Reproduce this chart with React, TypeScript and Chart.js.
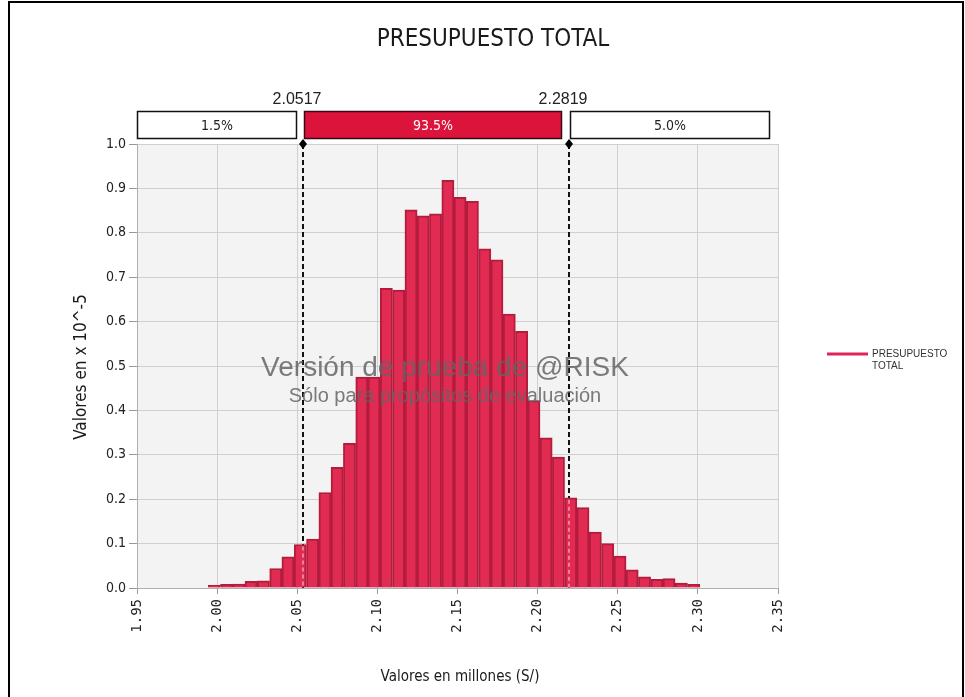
import React, { useEffect, useRef } from "react";
import { Chart, registerables } from "chart.js";
Chart.register(...registerables);

// ---- data ----
const binCenters = [
  1.9982, 2.0059, 2.0136, 2.0212, 2.0289, 2.0366, 2.0442, 2.0519, 2.0596, 2.0673,
  2.0749, 2.0826, 2.0903, 2.0979, 2.1056, 2.1133, 2.121, 2.1286, 2.1363, 2.144,
  2.1516, 2.1593, 2.167, 2.1746, 2.1823, 2.19, 2.1977, 2.2053, 2.213, 2.2207,
  2.2283, 2.236, 2.2437, 2.2514, 2.259, 2.2667, 2.2744, 2.282, 2.2897, 2.2974,
];
const binValues = [
  0.006, 0.008, 0.009, 0.015, 0.016, 0.044, 0.07, 0.098, 0.11, 0.215,
  0.272, 0.326, 0.475, 0.475, 0.675, 0.671, 0.852, 0.838, 0.843, 0.918,
  0.88, 0.871, 0.764, 0.739, 0.617, 0.578, 0.422, 0.338, 0.295, 0.203,
  0.181, 0.126, 0.1, 0.072, 0.041, 0.025, 0.0195, 0.021, 0.011, 0.008,
];
const xTicks = [1.95, 2.0, 2.05, 2.1, 2.15, 2.2, 2.25, 2.3, 2.35];
const yTicks = [0, 0.1, 0.2, 0.3, 0.4, 0.5, 0.6, 0.7, 0.8, 0.9, 1.0];
const markerPositions = [2.0537, 2.2198];
const markerLabels = ["2.0517", "2.2819"];
const regionLabels = ["1.5%", "93.5%", "5.0%"];
const chartTitle = "PRESUPUESTO TOTAL";
const seriesName = ["PRESUPUESTO", "TOTAL"];
const xTitle = "Valores en millones (S/)";
const yTitle = "Valores en x 10^-5";
const watermark = ["Versión de prueba de @RISK", "Sólo para propósitos de evaluación"];

const NARROW = '"Liberation Sans Narrow", "DejaVu Sans Condensed", "Liberation Sans", sans-serif';
const SANS = '"Liberation Sans", Arial, sans-serif';
const MONO = '"DejaVu Sans Mono", "Liberation Mono", monospace';

const BAR_FILL = "#e22b52";
const BAR_EDGE = "#b31c3d";

const overlay = {
  id: "overlay",
  beforeDraw(chart: any) {
    const { ctx, chartArea: a } = chart;
    ctx.save();
    ctx.fillStyle = "#f3f3f3";
    ctx.fillRect(a.left, a.top, a.right - a.left, a.bottom - a.top);
    ctx.restore();
  },
  beforeDatasetsDraw(chart: any) {
    const { ctx, chartArea: a, scales } = chart;
    ctx.save();
    ctx.strokeStyle = "#111";
    ctx.lineWidth = 2;
    ctx.setLineDash([5, 3]);
    markerPositions.forEach((v) => {
      const x = Math.round(scales.x.getPixelForValue(v));
      ctx.beginPath();
      ctx.moveTo(x, a.top);
      ctx.lineTo(x, a.bottom);
      ctx.stroke();
    });
    ctx.restore();
  },
  afterDatasetsDraw(chart: any) {
    const { ctx, chartArea: a, scales } = chart;
    const meta = chart.getDatasetMeta(0);
    ctx.save();
    markerPositions.forEach((v) => {
      const x = Math.round(scales.x.getPixelForValue(v));
      let topY = a.bottom;
      meta.data.forEach((el: any) => {
        const half = el.width / 2;
        if (x >= el.x - half && x <= el.x + half) topY = Math.min(topY, el.y);
      });
      ctx.strokeStyle = "rgba(255,170,190,0.9)";
      ctx.lineWidth = 1.5;
      ctx.setLineDash([4, 3]);
      ctx.beginPath();
      ctx.moveTo(x, topY + 2);
      ctx.lineTo(x, a.bottom);
      ctx.stroke();
      ctx.setLineDash([]);
      ctx.fillStyle = "#000";
      ctx.beginPath();
      ctx.moveTo(x, a.top - 5);
      ctx.lineTo(x + 4, a.top);
      ctx.lineTo(x, a.top + 5);
      ctx.lineTo(x - 4, a.top);
      ctx.closePath();
      ctx.fill();
    });
    ctx.restore();
  },
  afterDraw(chart: any) {
    const { ctx, chartArea: a, scales } = chart;
    const xs = markerPositions.map((v) => Math.round(scales.x.getPixelForValue(v)));
    ctx.save();
    ctx.fillStyle = "#1a1a1a";
    ctx.textAlign = "center";
    ctx.textBaseline = "middle";
    ctx.font = `24px ${NARROW}`;
    ctx.fillText(chartTitle, 493, 40);

    ctx.font = `16px ${SANS}`;
    ctx.fillStyle = "#222";
    markerLabels.forEach((t, i) => ctx.fillText(t, xs[i] - 6, 100));

    const boxTop = 111;
    const boxH = 28;
    const boxes = [
      [a.left, xs[0] - 6],
      [xs[0] + 1, xs[1] - 7],
      [xs[1] + 1, a.right - 8],
    ];
    boxes.forEach(([l, r], i) => {
      ctx.fillStyle = i === 1 ? "#dc143c" : "#ffffff";
      ctx.fillRect(l, boxTop, r - l, boxH);
      ctx.strokeStyle = i === 1 ? "#3a0a12" : "#111";
      ctx.lineWidth = 1.5;
      ctx.strokeRect(l + 0.5, boxTop + 0.5, r - l - 1, boxH - 1);
      ctx.fillStyle = i === 1 ? "#ffffff" : "#222";
      ctx.font = `14px ${NARROW}`;
      ctx.fillText(regionLabels[i], (l + r) / 2, boxTop + boxH / 2 + 1);
    });

    ctx.fillStyle = "#1a1a1a";
    ctx.font = `15px ${NARROW}`;
    ctx.fillText(xTitle, 460, 677);
    ctx.save();
    ctx.translate(82, 367);
    ctx.rotate(-Math.PI / 2);
    ctx.font = `17px ${NARROW}`;
    ctx.fillText(yTitle, 0, 0);
    ctx.restore();

    ctx.strokeStyle = "#e0245a";
    ctx.lineWidth = 3;
    ctx.beginPath();
    ctx.moveTo(827, 354);
    ctx.lineTo(868, 354);
    ctx.stroke();
    ctx.fillStyle = "#333";
    ctx.textAlign = "left";
    ctx.font = `10px ${SANS}`;
    ctx.fillText(seriesName[0], 872, 354);
    ctx.fillText(seriesName[1], 872, 366);

    ctx.textAlign = "center";
    ctx.fillStyle = "rgba(100,100,100,0.85)";
    ctx.font = `28px ${SANS}`;
    ctx.fillText(watermark[0], 445, 368);
    ctx.font = `20px ${SANS}`;
    ctx.fillText(watermark[1], 445, 396);
    ctx.restore();
  },
};

export default function App() {
  const ref = useRef<HTMLCanvasElement | null>(null);
  useEffect(() => {
    if (!ref.current) return;
    const chart = new Chart(ref.current, {
      type: "bar",
      data: {
        datasets: [
          {
            label: seriesName.join(" "),
            data: binCenters.map((x, i) => ({ x, y: binValues[i] })),
            backgroundColor: BAR_FILL,
            borderColor: BAR_EDGE,
            borderWidth: 2,
            borderSkipped: "bottom",
            categoryPercentage: 1.0,
            barPercentage: 1.0,
          },
        ],
      },
      options: {
        animation: false,
        responsive: false,
        events: [],
        layout: { padding: { left: 0, top: 144, right: 187, bottom: 0 } },
        plugins: { legend: { display: false }, tooltip: { enabled: false }, title: { display: false } },
        scales: {
          x: {
            type: "linear",
            min: 1.95,
            max: 2.35,
            offset: false,
            afterFit: (s: any) => {
              s.height = 109;
            },
            afterBuildTicks: (s: any) => {
              s.ticks = xTicks.map((v) => ({ value: v }));
            },
            grid: { offset: false, color: "#cfcfcf", tickLength: 6, tickColor: "#999" },
            border: { color: "#b0b0b0" },
            ticks: {
              maxRotation: 90,
              minRotation: 90,
              padding: 5,
              color: "#222",
              font: { family: MONO, size: 14 },
              callback: (v: any) => Number(v).toFixed(2),
            },
          },
          y: {
            min: 0,
            max: 1,
            afterFit: (s: any) => {
              s.width = 137;
            },
            afterBuildTicks: (s: any) => {
              s.ticks = yTicks.map((v) => ({ value: v }));
            },
            grid: { color: "#cfcfcf", tickLength: 8, tickColor: "#999" },
            border: { color: "#b0b0b0" },
            ticks: {
              padding: 3,
              color: "#222",
              font: { family: NARROW, size: 14 },
              callback: (v: any) => Number(v).toFixed(1),
            },
          },
        },
      },
      plugins: [overlay],
    });
    return () => chart.destroy();
  }, []);
  return (
    <div style={{ position: "fixed", left: 0, top: 0, width: 965, height: 697, background: "#fff", overflow: "hidden" }}>
      <canvas ref={ref} width={965} height={697} style={{ display: "block" }} />
      <div
        style={{
          position: "absolute",
          left: 8,
          top: 1,
          width: 952,
          height: 720,
          border: "2px solid #000",
          pointerEvents: "none",
        }}
      />
    </div>
  );
}
